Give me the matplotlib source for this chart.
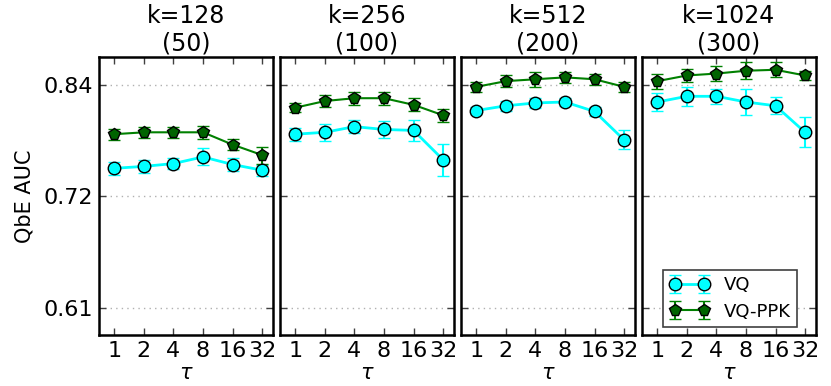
import matplotlib
matplotlib.use("Agg")
import matplotlib.pyplot as plt
import numpy as np

taus = ["1", "2", "4", "8", "16", "32"]
titles = ["k=128\n(50)", "k=256\n(100)", "k=512\n(200)", "k=1024\n(300)"]

vq_mean = [
    [0.752, 0.754, 0.757, 0.764, 0.756, 0.750],
    [0.788, 0.790, 0.796, 0.793, 0.792, 0.761],
    [0.813, 0.818, 0.821, 0.822, 0.812, 0.782],
    [0.822, 0.828, 0.828, 0.822, 0.818, 0.790],
]
vq_err = [
    [0.007, 0.007, 0.006, 0.009, 0.007, 0.006],
    [0.007, 0.009, 0.007, 0.009, 0.011, 0.017],
    [0.004, 0.005, 0.005, 0.004, 0.005, 0.010],
    [0.009, 0.010, 0.008, 0.014, 0.009, 0.016],
]
ppk_mean = [
    [0.788, 0.790, 0.790, 0.790, 0.777, 0.766],
    [0.816, 0.823, 0.826, 0.826, 0.819, 0.808],
    [0.838, 0.844, 0.846, 0.848, 0.846, 0.838],
    [0.844, 0.850, 0.852, 0.855, 0.856, 0.850],
]
ppk_err = [
    [0.006, 0.006, 0.006, 0.007, 0.006, 0.009],
    [0.005, 0.006, 0.007, 0.007, 0.007, 0.007],
    [0.005, 0.006, 0.008, 0.006, 0.006, 0.005],
    [0.008, 0.007, 0.008, 0.009, 0.008, 0.005],
]
ytick_vals = [0.605, 0.7225, 0.84]
ytick_labels = ["0.61", "0.72", "0.84"]

plt.rcParams['font.family'] = ['DejaVu Sans']
plt.rcParams['mathtext.fontset'] = 'dejavusans'
fig = plt.figure(figsize=(8.31, 3.86), dpi=100, facecolor='white')

left0 = 99 / 831
w = 174 / 831
step = 181 / 831
bottom = 1 - 335 / 386
h = (335 - 57) / 386

x = np.arange(len(taus))
for i in range(4):
    ax = fig.add_axes([left0 + i * step, bottom, w, h])
    ax.errorbar(x, vq_mean[i], yerr=vq_err[i], color='cyan', lw=2,
                marker='o', ms=9, mfc='cyan', mec='black', mew=1,
                ecolor='cyan', elinewidth=1.5, capsize=4, capthick=1.5,
                label='VQ', zorder=3)
    ax.errorbar(x, ppk_mean[i], yerr=ppk_err[i], color='green', lw=1.5,
                marker='p', ms=8.5, mfc='darkgreen', mec='black', mew=1,
                ecolor='green', elinewidth=1.5, capsize=4, capthick=1.5,
                label='VQ-PPK', zorder=3)
    ax.set_xlim(-0.52, 5.37)
    ax.set_ylim(0.576, 0.8695)
    ax.set_xticks(x)
    ax.set_xticklabels(taus, fontsize=16)
    ax.set_yticks(ytick_vals)
    if i == 0:
        ax.set_yticklabels(ytick_labels, fontsize=16)
        ax.set_ylabel("QbE AUC", fontsize=15, labelpad=7)
    else:
        ax.set_yticklabels([])
    ax.yaxis.grid(True, linestyle=(0, (1, 3)), color='#b0b0b0', lw=1)
    ax.tick_params(direction='in', length=5, width=1, top=True, right=True,
                   color='#404040', pad=4)
    for sp in ax.spines.values():
        sp.set_linewidth(1.8)
        sp.set_color('black')
    ax.set_xlabel(r"$\tau$", fontsize=15, labelpad=2)
    ax.set_title(titles[i], fontsize=17, linespacing=1.15, pad=5)
    if i == 3:
        leg = ax.legend(loc='lower right', numpoints=2, fontsize=13,
                        fancybox=False, framealpha=1, edgecolor='#404040',
                        borderpad=0.35, handlelength=2.2, handletextpad=0.8,
                        labelspacing=0.45, borderaxespad=0,
                        bbox_to_anchor=(0.89, 0.029))
        leg.get_frame().set_linewidth(1.2)

fig.savefig("out.png", dpi=100, facecolor='white')
